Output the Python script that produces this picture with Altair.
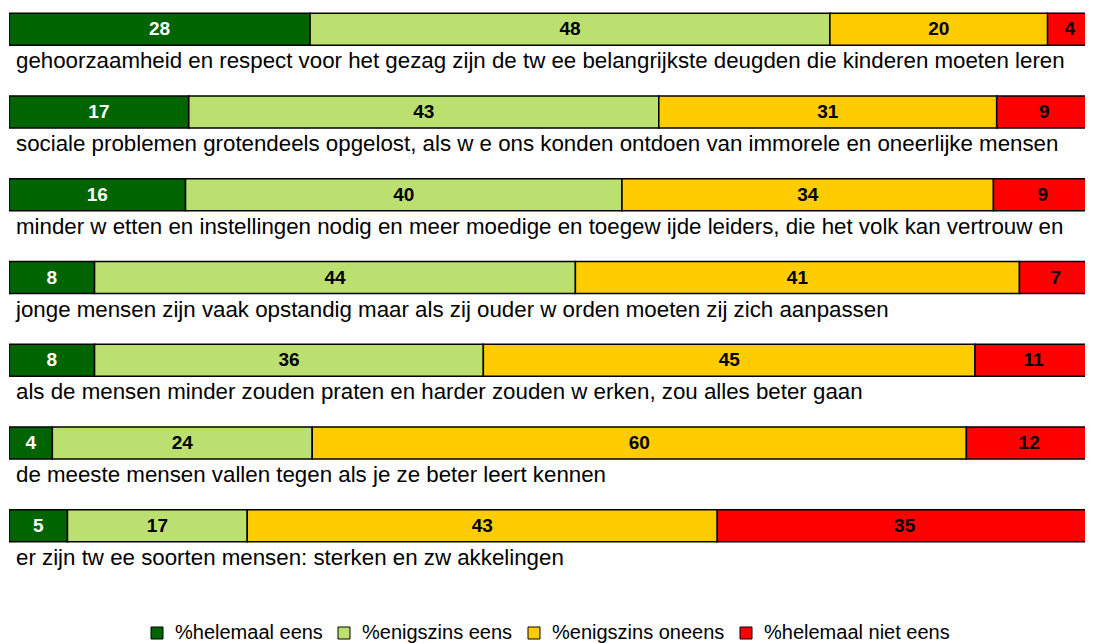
import altair as alt
import pandas as pd

statements = [
    "gehoorzaamheid en respect voor het gezag zijn de tw ee belangrijkste deugden die kinderen moeten leren",
    "sociale problemen grotendeels opgelost, als w e ons konden ontdoen van immorele en oneerlijke mensen",
    "minder w etten en instellingen nodig en meer moedige en toegew ijde leiders, die het volk kan vertrouw en",
    "jonge mensen zijn vaak opstandig maar als zij ouder w orden moeten zij zich aanpassen",
    "als de mensen minder zouden praten en harder zouden w erken, zou alles beter gaan",
    "de meeste mensen vallen tegen als je ze beter leert kennen",
    "er zijn tw ee soorten mensen: sterken en zw akkelingen",
]
categories = ["%helemaal eens", "%enigszins eens", "%enigszins oneens", "%helemaal niet eens"]
colors = ["#006400", "#BBE070", "#FFCC00", "#FF0000"]

helemaal_eens = [27.8, 16.6, 16.3, 7.9, 7.9, 4.0, 5.4]
enigszins_eens = [48.0, 43.4, 40.3, 44.4, 35.9, 24.0, 16.6]
enigszins_oneens = [20.1, 31.2, 34.3, 41.0, 45.4, 60.4, 43.4]
helemaal_niet_eens = [4.1, 8.8, 9.1, 6.7, 10.8, 11.6, 34.6]

series = [helemaal_eens, enigszins_eens, enigszins_oneens, helemaal_niet_eens]
rows = []
for ci, (cat, vals) in enumerate(zip(categories, series)):
    for si, st in enumerate(statements):
        rows.append({"statement": st, "row": si, "category": cat, "order": ci, "value": vals[si]})
df = pd.DataFrame(rows)

W = 1076
H = 579

y_enc = alt.Y("statement:N", sort=statements, axis=None,
              scale=alt.Scale(paddingInner=0, paddingOuter=0))
x_scale = alt.Scale(domain=[0, 100 * W / 1083], nice=False, zero=True)

base = alt.Chart(df).transform_stack(
    stack="value", groupby=["statement"], as_=["x0", "x1"],
    sort=[alt.SortField("order", order="ascending")]
).transform_calculate(mid="(datum.x0 + datum.x1) / 2")

bars = base.mark_bar(height=32, yOffset=-20, stroke="black", strokeWidth=1.5, clip=True).encode(
    x=alt.X("x0:Q", scale=x_scale, axis=None),
    x2="x1:Q",
    y=y_enc,
    color=alt.Color("category:N", sort=categories,
                    scale=alt.Scale(domain=categories, range=colors),
                    legend=alt.Legend(title=None, orient="none", direction="horizontal",
                                      legendX=138, legendY=615,
                                      symbolType="square", symbolSize=144,
                                      symbolStrokeColor="black", symbolStrokeWidth=1,
                                      labelFont="Liberation Sans", labelFontSize=20,
                                      labelColor="black", columnPadding=11,
                                      labelOffset=8, labelLimit=0, symbolOpacity=1)),
)

nums = base.mark_text(font="Liberation Sans", fontSize=19, fontWeight="bold",
                      yOffset=-20, baseline="middle", align="center").encode(
    x=alt.X("mid:Q", scale=x_scale),
    y=y_enc,
    text=alt.Text("value:Q", format=".0f"),
    color=alt.condition("datum.order == 0", alt.value("white"), alt.value("black")),
)

lab_df = pd.DataFrame({"statement": statements})
labels = alt.Chart(lab_df).mark_text(font="Liberation Sans", fontSize=22.3, align="left",
                                     baseline="middle", yOffset=12, color="black").encode(
    x=alt.value(7),
    y=y_enc,
    text="statement:N",
)

chart = alt.layer(bars, nums, labels).properties(
    width=W, height=H,
    autosize=alt.AutoSizeParams(type="none"),
    padding={"left": 1, "top": 0, "right": 0, "bottom": 56},
).configure_view(stroke=None)

chart.save("out.html", embed_options={"renderer": "svg", "actions": False})
